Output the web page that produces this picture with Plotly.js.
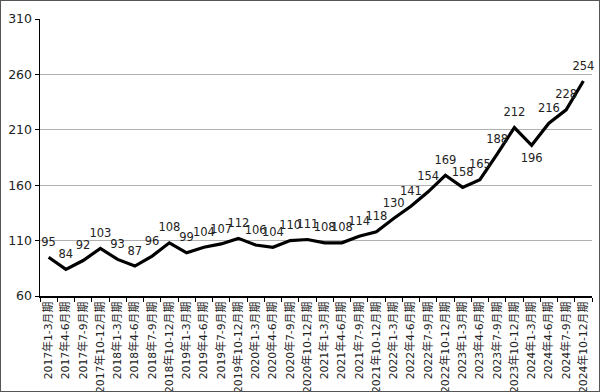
<!DOCTYPE html>
<html>
<head>
<meta charset="utf-8">
<script src="https://cdn.plot.ly/plotly-3.0.1.min.js"></script>
<style>
html,body{margin:0;padding:0;background:#fff;}
#wrap{position:relative;width:600px;height:392px;}
#chart{width:600px;height:392px;}
#frame{position:absolute;left:0;top:0;width:598px;height:390px;border:1px solid #555;pointer-events:none;}
</style>
</head>
<body>
<div id="wrap"><div id="chart"></div><div id="frame"></div></div>
<script>
const categories = [
  "2017年1-3月期","2017年4-6月期","2017年7-9月期","2017年10-12月期",
  "2018年1-3月期","2018年4-6月期","2018年7-9月期","2018年10-12月期",
  "2019年1-3月期","2019年4-6月期","2019年7-9月期","2019年10-12月期",
  "2020年1-3月期","2020年4-6月期","2020年7-9月期","2020年10-12月期",
  "2021年1-3月期","2021年4-6月期","2021年7-9月期","2021年10-12月期",
  "2022年1-3月期","2022年4-6月期","2022年7-9月期","2022年10-12月期",
  "2023年1-3月期","2023年4-6月期","2023年7-9月期","2023年10-12月期",
  "2024年1-3月期","2024年4-6月期","2024年7-9月期","2024年10-12月期"
];
const values = [95,84,92,103,93,87,96,108,99,104,107,112,106,104,110,111,108,108,114,118,130,141,154,169,158,165,188,212,196,216,228,254];
const yTicks = [60,110,160,210,260,310];

const textPos = values.map((v,i) => i === 28 ? "bottom center" : "top center");

const font = "DejaVu Sans, Verdana, Noto Sans CJK JP, sans-serif";

Plotly.newPlot("chart", [{
  x: categories,
  y: values,
  type: "scatter",
  mode: "lines+markers+text",
  line: {color: "#000", width: 3.2},
  marker: {size: 12, color: "rgba(0,0,0,0)"},
  text: values.map(String),
  textposition: textPos,
  textfont: {family: font, size: 11.5, color: "#222"},
  cliponaxis: false,
  hoverinfo: "none"
}], {
  width: 600, height: 392,
  margin: {l: 40, r: 8, t: 19, b: 96},
  paper_bgcolor: "#fff", plot_bgcolor: "#fff",
  showlegend: false,
  xaxis: {
    type: "category",
    range: [-0.5, 31.5],
    showline: true, linecolor: "#000", linewidth: 1.5,
    ticks: "outside", tickson: "boundaries", ticklen: 4, tickcolor: "#000",
    tickangle: -90,
    tickfont: {family: font, size: 10.8, color: "#222"},
    showgrid: false, zeroline: false, fixedrange: true
  },
  yaxis: {
    range: [60, 310],
    tickvals: yTicks,
    showline: true, linecolor: "#000", linewidth: 1.5,
    ticks: "outside", ticklen: 4, tickcolor: "#000",
    tickfont: {family: font, size: 12.5, color: "#222"},
    showgrid: true, gridcolor: "#b0b0b0", gridwidth: 1,
    zeroline: false, fixedrange: true
  }
}, {staticPlot: true});
</script>
</body>
</html>
